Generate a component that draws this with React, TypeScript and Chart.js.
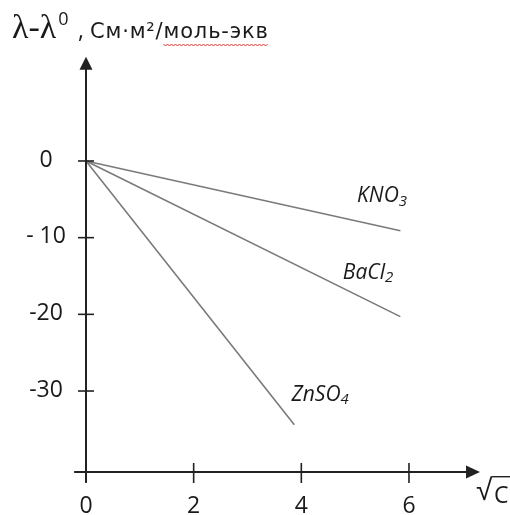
import React, { useEffect, useRef } from "react";
import { Chart, registerables } from "chart.js";
Chart.register(...registerables);

// ---- data ----
const X_TICKS = [0, 2, 4, 6];
const X_TICK_LABELS = ["0", "2", "4", "6"];
const Y_TICKS = [0, -10, -20, -30];
const Y_TICK_LABELS = ["0", "- 10", "-20", "-30"];

const SERIES_NAMES = ["KNO", "BaCl", "ZnSO"];
const SERIES_SUBS = ["3", "2", "4"];
const KNO3_X = [0, 5.84];
const KNO3_Y = [0, -9.1];
const BACL2_X = [0, 5.84];
const BACL2_Y = [0, -20.3];
const ZNSO4_X = [0, 3.87];
const ZNSO4_Y = [0, -34.4];
// label anchor points (data coords)
const LABEL_X = [5.5, 5.24, 4.35];
const LABEL_Y = [-4.6, -14.6, -30.5];

const TITLE_MAIN = "λ-λ";
const TITLE_SUP = "0";
const TITLE_COMMA = ",";
const TITLE_UNITS = "См·м²/моль-экв";
const X_TITLE = "C";

// axis extents (data coords)
const AXIS_X_FROM = -0.22;
const AXIS_X_TO = 7.32;
const AXIS_Y_FROM = -41.9;
const AXIS_Y_TO = 13.6;
const X_AXIS_AT = -40.56;

const toPts = (xs: number[], ys: number[]) => xs.map((x, i) => ({ x, y: ys[i] }));

const axesPlugin = {
  id: "axesPlugin",
  afterDraw(chart: any) {
    const ctx: any = chart.ctx;
    const xs = chart.scales.x;
    const ys = chart.scales.y;
    const px = (v: number) => xs.getPixelForValue(v);
    const py = (v: number) => ys.getPixelForValue(v);
    ctx.save();
    const axisColor = "#222";
    ctx.strokeStyle = axisColor;
    ctx.fillStyle = axisColor;
    ctx.lineWidth = 2;
    const x0 = px(0);
    const yAx = py(X_AXIS_AT);
    // y axis
    ctx.beginPath();
    ctx.moveTo(x0, py(AXIS_Y_FROM));
    ctx.lineTo(x0, py(AXIS_Y_TO) + 10);
    ctx.stroke();
    const yTip = py(AXIS_Y_TO);
    ctx.beginPath();
    ctx.moveTo(x0, yTip);
    ctx.lineTo(x0 - 6.5, yTip + 13);
    ctx.lineTo(x0 + 6.5, yTip + 13);
    ctx.closePath();
    ctx.fill();
    // x axis
    ctx.beginPath();
    ctx.moveTo(px(AXIS_X_FROM), yAx);
    ctx.lineTo(px(AXIS_X_TO) - 10, yAx);
    ctx.stroke();
    const xTip = px(AXIS_X_TO);
    ctx.beginPath();
    ctx.moveTo(xTip, yAx);
    ctx.lineTo(xTip - 14, yAx - 6.5);
    ctx.lineTo(xTip - 14, yAx + 6.5);
    ctx.closePath();
    ctx.fill();
    // ticks
    ctx.lineWidth = 1.6;
    Y_TICKS.forEach((t) => {
      const y = py(t);
      ctx.beginPath();
      ctx.moveTo(x0 - 8, y);
      ctx.lineTo(x0 + 8, y);
      ctx.stroke();
    });
    X_TICKS.forEach((t) => {
      const x = px(t);
      ctx.beginPath();
      ctx.moveTo(x, yAx - 9);
      ctx.lineTo(x, yAx + 11);
      ctx.stroke();
    });
    // tick labels
    ctx.fillStyle = "#1a1a1a";
    ctx.font = "23px 'Open Sans'";
    ctx.textAlign = "center";
    ctx.textBaseline = "middle";
    Y_TICKS.forEach((t, i) => {
      ctx.fillText(Y_TICK_LABELS[i], 46, py(t) - 1);
    });
    ctx.textBaseline = "alphabetic";
    X_TICKS.forEach((t, i) => {
      ctx.fillText(X_TICK_LABELS[i], px(t), 513);
    });
    // sqrt C
    ctx.textAlign = "left";
    ctx.font = "30px 'Liberation Sans'";
    const m = ctx.measureText("√");
    const sqBase = 476 + m.actualBoundingBoxAscent;
    ctx.fillText("√", 476, sqBase);
    const sqRight = 476 + m.actualBoundingBoxRight;
    ctx.font = "23px 'Open Sans'";
    ctx.fillText(X_TITLE, sqRight + 1, 503);
    ctx.lineWidth = 1.4;
    ctx.beginPath();
    ctx.moveTo(sqRight - 1, 476.7);
    ctx.lineTo(510, 476.7);
    ctx.stroke();
    // title
    let tx = 12;
    const base = 38;
    ctx.font = "34px 'Liberation Serif'";
    ctx.fillText(TITLE_MAIN, tx, base);
    tx += ctx.measureText(TITLE_MAIN).width + 2;
    ctx.font = "18px 'Open Sans'";
    ctx.fillText(TITLE_SUP, tx, base - 13);
    ctx.font = "23px 'Open Sans'";
    ctx.fillText(TITLE_COMMA, 78, base);
    // units, fitted to width
    ctx.font = "21px 'DejaVu Sans'";
    const ux = 90;
    const target = 178;
    const w = ctx.measureText(TITLE_UNITS).width;
    const spacing = (target - w) / (TITLE_UNITS.length - 1);
    let cx = ux;
    const starts: number[] = [];
    for (const ch of TITLE_UNITS) {
      starts.push(cx);
      ctx.fillText(ch, cx, base);
      cx += ctx.measureText(ch).width + spacing;
    }
    const idx = TITLE_UNITS.indexOf("моль");
    const ux0 = starts[idx];
    const ux1 = cx - spacing;
    // red squiggle
    ctx.strokeStyle = "#e03030";
    ctx.lineWidth = 1;
    ctx.beginPath();
    for (let x = ux0, k = 0; x <= ux1; x += 2, k++) {
      const y = base + 6 + (k % 2 === 0 ? 0 : 2);
      if (k === 0) ctx.moveTo(x, y);
      else ctx.lineTo(x, y);
    }
    ctx.stroke();
    // series labels
    ctx.fillStyle = "#1a1a1a";
    SERIES_NAMES.forEach((name, i) => {
      ctx.font = "italic 21px 'Open Sans'";
      const w1 = ctx.measureText(name).width;
      ctx.font = "italic 15px 'Open Sans'";
      const w2 = ctx.measureText(SERIES_SUBS[i]).width;
      const lx = px(LABEL_X[i]);
      const ly = py(LABEL_Y[i]);
      const left = lx - (w1 + w2) / 2;
      ctx.font = "italic 21px 'Open Sans'";
      ctx.textBaseline = "middle";
      ctx.fillText(name, left, ly);
      ctx.font = "italic 15px 'Open Sans'";
      ctx.fillText(SERIES_SUBS[i], left + w1, ly + 5);
    });
    ctx.restore();
  },
};

export default function App() {
  const ref = useRef<HTMLCanvasElement>(null);
  useEffect(() => {
    document.body.style.margin = "0";
    const lineStyle = {
      borderColor: "#7a7a7a",
      borderWidth: 1.6,
      pointRadius: 0,
      showLine: true,
      fill: false,
      clip: false as any,
    };
    const chart = new Chart(ref.current!, {
      type: "scatter",
      data: {
        datasets: [
          { label: "KNO3", data: toPts(KNO3_X, KNO3_Y), ...lineStyle },
          { label: "BaCl2", data: toPts(BACL2_X, BACL2_Y), ...lineStyle },
          { label: "ZnSO4", data: toPts(ZNSO4_X, ZNSO4_Y), ...lineStyle },
        ],
      },
      options: {
        animation: false,
        responsive: false,
        devicePixelRatio: 1,
        layout: { padding: { left: 86, right: 47.2, top: 84.3, bottom: 47.3 } },
        plugins: { legend: { display: false }, tooltip: { enabled: false } },
        scales: {
          x: { type: "linear", min: 0, max: 7, display: false },
          y: { type: "linear", min: -40, max: 10, display: false },
        },
      },
      plugins: [axesPlugin],
    });
    return () => chart.destroy();
  }, []);
  return (
    <div style={{ position: "absolute", left: 0, top: 0, width: 510, height: 515, background: "#fff" }}>
      <canvas ref={ref} width={510} height={515} />
    </div>
  );
}
